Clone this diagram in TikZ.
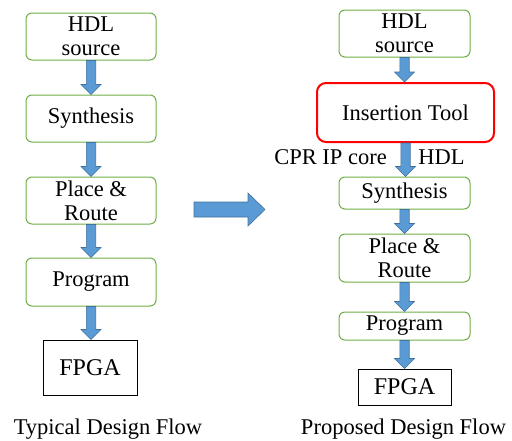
\documentclass[tikz,border=0pt]{standalone}
\usepackage{fontspec}
\setmainfont{Liberation Serif}
\usetikzlibrary{calc}
\definecolor{boxgreen}{HTML}{70AD47}
\definecolor{arrfill}{HTML}{5B9BD5}
\definecolor{arrline}{HTML}{41719C}
\tikzset{
  stepbox/.style={draw=boxgreen, line width=1pt, rounded corners=6pt, inner sep=0pt,
    align=center, font=\rmfamily\fontsize{22.5}{24}\selectfont},
  toolbox/.style={draw=red, line width=2pt, rounded corners=9pt, inner sep=0pt,
    align=center, font=\rmfamily\fontsize{22.5}{24}\selectfont},
  chipbox/.style={draw=black, line width=1pt, inner sep=0pt,
    font=\rmfamily\fontsize{24}{26}\selectfont},
  plain/.style={inner sep=0pt, font=\rmfamily\fontsize{22.5}{24}\selectfont},
  blockarrow/.style={fill=arrfill, draw=arrline, line width=0.6pt, line join=miter},
}
\newcommand\flowarrow[2]{%
  \path let \p1=(#1.south), \p2=(#2.north) in
    [blockarrow] (\x1-4.7pt,\y1) -- (\x1+4.7pt,\y1) -- (\x1+4.7pt,\y2+10pt)
    -- (\x1+10pt,\y2+10pt) -- (\x1,\y2) -- (\x1-10pt,\y2+10pt)
    -- (\x1-4.7pt,\y2+10pt) -- cycle;}
\begin{document}
\begin{tikzpicture}[x=1pt,y=-1pt]
\useasboundingbox (0,0) rectangle (512,440);
% left flow
\node[stepbox, minimum width=130pt, minimum height=47pt] (hdlA) at (91,36.5) {HDL\\source};
\node[stepbox, minimum width=130pt, minimum height=47pt] (synA) at (91,118.5) {Synthesis};
\node[stepbox, minimum width=130pt, minimum height=47pt] (prA) at (91,200.5) {Place \&\\Route};
\node[stepbox, minimum width=130pt, minimum height=48pt] (progA) at (91,282) {Program};
\node[chipbox, minimum width=94pt, minimum height=55pt] (fpgaA) at (90,367.5) {FPGA};
\node[plain, anchor=base] (labA) at (108,434) {Typical Design Flow};
\flowarrow{hdlA}{synA}
\flowarrow{synA}{prA}
\flowarrow{prA}{progA}
\flowarrow{progA}{fpgaA}
% big arrow
\path[blockarrow] (194,202) -- (248,202) -- (248,193) -- (265,209.5) -- (248,226)
  -- (248,217) -- (194,217) -- cycle;
% right flow
\node[stepbox, minimum width=131pt, minimum height=47pt] (hdlB) at (404.5,33.5) {HDL\\source};
\node[toolbox, minimum width=177pt, minimum height=59pt] (tool) at (405.5,112.5) {Insertion Tool};
\node[stepbox, minimum width=131pt, minimum height=32pt] (synB) at (404.5,193) {Synthesis};
\node[stepbox, minimum width=131pt, minimum height=48pt] (prB) at (404.5,258) {Place \&\\Route};
\node[stepbox, minimum width=131pt, minimum height=28pt] (progB) at (404.5,326) {Program};
\node[chipbox, minimum width=93pt, minimum height=36pt] (fpgaB) at (404.5,387) {FPGA};
\node[plain] (cpr) at (330.5,157) {CPR IP core};
\node[plain] (hdlout) at (441.5,157) {HDL};
\node[plain, anchor=base] (labB) at (403.5,434) {Proposed Design Flow};
\flowarrow{hdlB}{tool}
\flowarrow{tool}{synB}
\flowarrow{synB}{prB}
\flowarrow{prB}{progB}
\flowarrow{progB}{fpgaB}
\end{tikzpicture}
\end{document}
